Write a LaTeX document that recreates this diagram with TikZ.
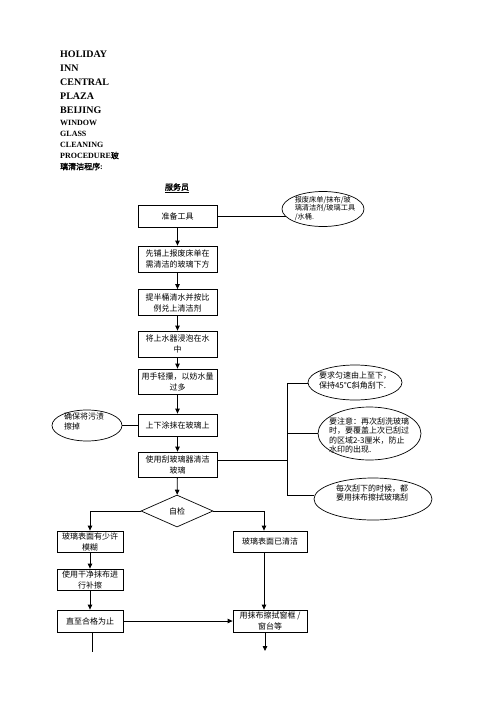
\documentclass[tikz,border=0pt]{standalone}
\usepackage{fontspec}
\setmainfont{Liberation Serif}
\newfontfamily\cjk[AutoFakeBold=2]{Noto Sans CJK SC}
\usetikzlibrary{shapes.geometric,arrows.meta}
\tikzset{
  box/.style={draw, line width=0.8pt, inner sep=0pt, align=center,
    font=\cjk\fontsize{8}{11}\selectfont},
  mainbox/.style={box, minimum width=79pt},
  leftbox/.style={box, minimum width=66pt, minimum height=21pt},
  rightbox/.style={box, minimum width=74pt, minimum height=21pt},
  oval/.style={draw, ellipse, line width=0.7pt, inner sep=0pt},
  otext/.style={inner sep=0pt, font=\cjk\fontsize{8}{9.3}\selectfont},
  bigtitle/.style={anchor=west, inner sep=0pt, font=\fontsize{10}{12}\selectfont\bfseries},
  smalltitle/.style={anchor=west, inner sep=0pt, font=\fontsize{8}{10}\selectfont\bfseries},
  conn/.style={line width=0.8pt},
  arr/.style={conn, -{Triangle[length=5pt,width=4.5pt]}},
}
\begin{document}
\begin{tikzpicture}[x=1pt,y=-1pt]
\useasboundingbox (0,0) rectangle (496,702);
% title
\node[bigtitle] (t1) at (60,54) {HOLIDAY};
\node[bigtitle] (t2) at (60,68) {INN};
\node[bigtitle] (t3) at (60,82) {CENTRAL};
\node[bigtitle] (t4) at (60,96) {PLAZA};
\node[bigtitle] (t5) at (60,110) {BEIJING};
\node[smalltitle] (t6) at (60,122.5) {WINDOW};
\node[smalltitle] (t7) at (60,133.5) {GLASS};
\node[smalltitle] (t8) at (60,144.5) {CLEANING};
\node[smalltitle] (t9) at (60,155.5) {PROCEDURE{\cjk\bfseries 玻}};
\node[smalltitle] (t10) at (60,166.5) {{\cjk\bfseries 璃清洁程序}:};
\node[inner sep=0pt, font=\cjk\fontsize{8}{10}\selectfont\bfseries] (staff) at (177,188) {\underline{服务员}};
% main column
\node[mainbox, minimum height=22pt] (b1) at (177.5,216) {准备工具};
\node[mainbox, minimum height=26pt] (b2) at (177.5,259) {先铺上报废床单在\\需清洁的玻璃下方};
\node[mainbox, minimum height=26pt] (b3) at (177.5,302.5) {提半桶清水并按比\\例兑上清洁剂};
\node[mainbox, minimum height=26pt] (b4) at (177.5,344) {将上水器浸泡在水\\中};
\node[mainbox, minimum height=25pt] (b5) at (177.5,381.5) {用手轻攥，以妨水量\\过多};
\node[mainbox, minimum height=22pt] (b6) at (177.5,425) {上下涂抹在玻璃上};
\node[mainbox, minimum height=25pt] (b7) at (177.5,464.5) {使用刮玻璃器清洁\\玻璃};
\node[draw, diamond, line width=0.7pt, minimum width=72pt, minimum height=32pt, inner sep=0pt, aspect=2.25, font=\cjk\fontsize{8}{10}\selectfont] (dia) at (177,511) {自检};
% left column
\node[leftbox] (l1) at (90,541.5) {玻璃表面有少许\\模糊};
\node[leftbox] (l2) at (90,579.5) {使用干净抹布进\\行补擦};
\node[leftbox, minimum height=22pt] (l3) at (90,621) {直至合格为止};
% right column
\node[rightbox] (r1) at (270,541.5) {玻璃表面已清洁};
\node[rightbox, minimum height=22pt] (r2) at (270,621) {用抹布擦拭窗框 /\\窗台等};
% ellipses
\node[oval, minimum width=82pt, minimum height=35pt] (e0) at (323,209) {};
\node[otext, align=left, font=\cjk\fontsize{7.2}{8.6}\selectfont] (e0t) at (325,208.5) {报废床单/抹布/玻\\璃清洁剂/玻璃工具\\/水桶.};
\node[oval, minimum width=70pt, minimum height=31pt] (el) at (87,425.5) {};
\node[otext, align=left] (elt) at (84,421.5) {确保将污渍\\擦掉};
\node[oval, minimum width=94pt, minimum height=35pt] (e1) at (355,382.5) {};
\node[otext, align=left] (e1t) at (355,380.5) {要求匀速由上至下，\\保持45℃斜角刮下.};
\node[oval, minimum width=103pt, minimum height=53pt] (e2) at (369.5,433.5) {};
\node[otext, align=left] (e2t) at (369,435.5) {要注意：再次刮洗玻璃\\时，要覆盖上次已刮过\\的区域2-3厘米，防止\\水印的出现.};
\node[oval, minimum width=118pt, minimum height=42pt] (e3) at (373,499) {};
\node[otext, align=center] (e3t) at (372,493) {每次刮下的时候，都\\要用抹布擦拭玻璃刮};
% coordinates
\coordinate (bt) at (287,383);
\coordinate (bm) at (287,460);
\coordinate (bb) at (287,495);
\coordinate (lend) at (92,652);
\coordinate (rend) at (265,651);
% connectors
\draw[conn] (b1.east) -- (e0.192 |- b1.east);
\draw[arr] (b1) -- (b2);
\draw[arr] (b2) -- (b3);
\draw[arr] (b3) -- (b4);
\draw[arr] (b4) -- (b5);
\draw[arr] (b5) -- (b6);
\draw[arr] (b6) -- (b7);
\draw[arr] (b7) -- (dia);
\draw[conn] (el.east) -- (el.east -| b6.west);
\draw[conn] (b7.east |- bm) -- (bm);
\draw[conn] (bt) -- (bb);
\draw[conn] (bt) -- (bt -| e1.west);
\draw[conn] (bt |- e2.west) -- (e2.west);
\draw[conn] (bb) -- (bb -| e3.west);
\draw[arr] (dia.west) -| (l1.north);
\draw[arr] (dia.east) -| ([xshift=-6pt]r1.north);
\draw[arr] (l1) -- (l2);
\draw[arr] (l2) -- (l3);
\draw[conn] (l3.south -| lend) -- (lend);
\draw[arr] (l3.east) -- (r2.west);
\draw[arr] ([xshift=-6pt]r1.south) -- ([xshift=-6pt]r2.north);
\draw[arr] (r2.south -| rend) -- (rend);
\end{tikzpicture}
\end{document}
